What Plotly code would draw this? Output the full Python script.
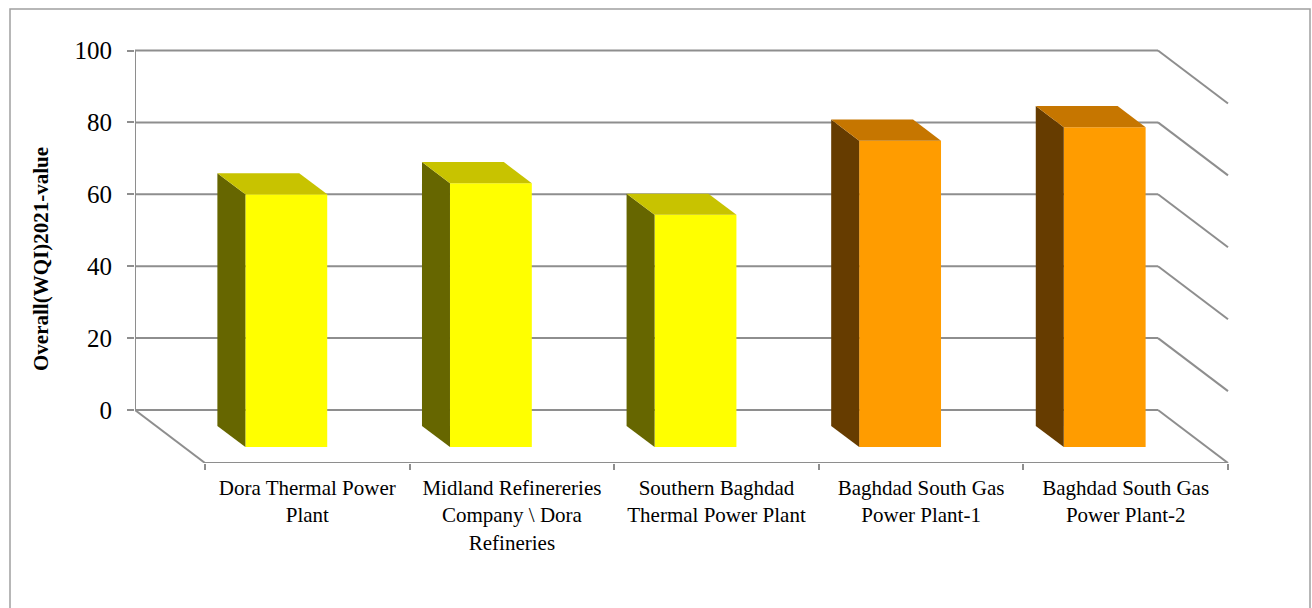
import plotly.graph_objects as go

# ---------------- data ----------------
categories = [
    "Dora Thermal Power<br>Plant",
    "Midland Refinereries<br>Company \\ Dora<br>Refineries",
    "Southern Baghdad<br>Thermal Power Plant",
    "Baghdad South Gas<br>Power Plant-1",
    "Baghdad South Gas<br>Power Plant-2",
]
wqi_values = [70.3, 73.4, 64.6, 85.2, 89.0]
y_ticks = [0, 20, 40, 60, 80, 100]
y_title = "Overall(WQI)2021-value"

# ---------------- style ----------------
front_colors = ["#FFFF00", "#FFFF00", "#FFFF00", "#FF9C00", "#FF9C00"]
top_colors = ["#C8C300", "#C8C300", "#C8C300", "#C67600", "#C67600"]
side_colors = ["#666600", "#666600", "#666600", "#663C00", "#663C00"]
GRID = "#8E8E8E"
FONT = "Liberation Serif"

# geometry (pixel scale of the oblique 3-D look)
W, H = 1312, 608
ML, MR, MT, MB = 135, 22, 20, 145
PX_PER_UNIT = 3.595      # pixels per value unit
PX_PER_CAT = 204.6       # pixels per category slot
DX = 70 / PX_PER_CAT     # depth shift in x (category units)
DY = 53 / PX_PER_UNIT    # depth shift in y (value units)
BAR_W = 0.4
D0, D1 = 0.3, 0.7        # bar depth span (fraction of floor depth)

plot_w = W - ML - MR
plot_h = H - MT - MB
x_range = [0, plot_w / PX_PER_CAT]
y_range = [-DY, -DY + plot_h / PX_PER_UNIT]
n = len(categories)

fig = go.Figure()

# ---------------- walls / gridlines (below traces) ----------------
shapes = []
def seg(x0, y0, x1, y1):
    shapes.append(dict(type="line", xref="x", yref="y", x0=x0, y0=y0, x1=x1, y1=y1,
                       line=dict(color=GRID, width=2), layer="below"))

for t in y_ticks:
    seg(0, t, n, t)                 # back wall
    seg(n, t, n + DX, t - DY)       # right side wall
seg(0, y_ticks[0], 0, y_ticks[-1])  # left back edge
seg(0, 0, DX, -DY)                  # floor left edge
seg(DX, -DY, n + DX, -DY)           # floor front edge

# border of the chart area
def px_x(p):
    return (p - ML) / plot_w
def px_y(q):
    return (H - MB - q) / plot_h
shapes.append(dict(type="rect", xref="paper", yref="paper",
                   x0=px_x(10), x1=px_x(1310), y0=px_y(640), y1=px_y(9),
                   line=dict(color="#A0A0A0", width=1.5), layer="below"))

# ---------------- bars ----------------
# front faces as real bars
fig.add_trace(go.Bar(
    x=[i + 0.5 + D1 * DX for i in range(n)],
    y=wqi_values,
    base=[-D1 * DY] * n,
    width=BAR_W,
    marker=dict(color=front_colors, line=dict(width=0)),
    hoverinfo="skip",
))

for i, v in enumerate(wqi_values):
    bx = i + 0.5 - BAR_W / 2
    # left side face
    fig.add_trace(go.Scatter(
        x=[bx + D0 * DX, bx + D1 * DX, bx + D1 * DX, bx + D0 * DX, bx + D0 * DX],
        y=[v - D0 * DY, v - D1 * DY, -D1 * DY, -D0 * DY, v - D0 * DY],
        fill="toself", fillcolor=side_colors[i], mode="lines",
        line=dict(width=0, color=side_colors[i]), hoverinfo="skip"))
    # top face
    fig.add_trace(go.Scatter(
        x=[bx + D0 * DX, bx + BAR_W + D0 * DX, bx + BAR_W + D1 * DX, bx + D1 * DX, bx + D0 * DX],
        y=[v - D0 * DY, v - D0 * DY, v - D1 * DY, v - D1 * DY, v - D0 * DY],
        fill="toself", fillcolor=top_colors[i], mode="lines",
        line=dict(width=0, color=top_colors[i]), hoverinfo="skip"))

fig.update_layout(
    width=W, height=H,
    margin=dict(l=ML, r=MR, t=MT, b=MB),
    plot_bgcolor="white", paper_bgcolor="white",
    showlegend=False,
    font=dict(family=FONT, color="black"),
    shapes=shapes,
    xaxis=dict(
        range=x_range, showgrid=False, zeroline=False, showline=False,
        tickmode="array",
        tickvals=[i + 0.5 + DX for i in range(n)],
        ticktext=categories,
        ticks="", tickfont=dict(family=FONT, size=21, color="black"),
        ticklabelstandoff=10,
        minor=dict(tickmode="array", tickvals=[i + DX for i in range(n + 1)],
                   ticks="outside", ticklen=6, tickwidth=2, tickcolor=GRID),
    ),
    yaxis=dict(
        range=y_range, showgrid=False, zeroline=False, showline=False,
        tickmode="array", tickvals=y_ticks,
        ticks="outside", ticklen=7, tickwidth=2, tickcolor=GRID,
        tickfont=dict(family=FONT, size=25, color="black"),
        ticklabelstandoff=10,
    ),
    annotations=[dict(
        text=y_title, xref="paper", yref="paper",
        x=px_x(41), y=px_y(259), textangle=-90, showarrow=False,
        font=dict(family=FONT, size=21, color="black", weight="bold"),
        xanchor="center", yanchor="middle",
    )],
)

fig.write_html("out.html")
